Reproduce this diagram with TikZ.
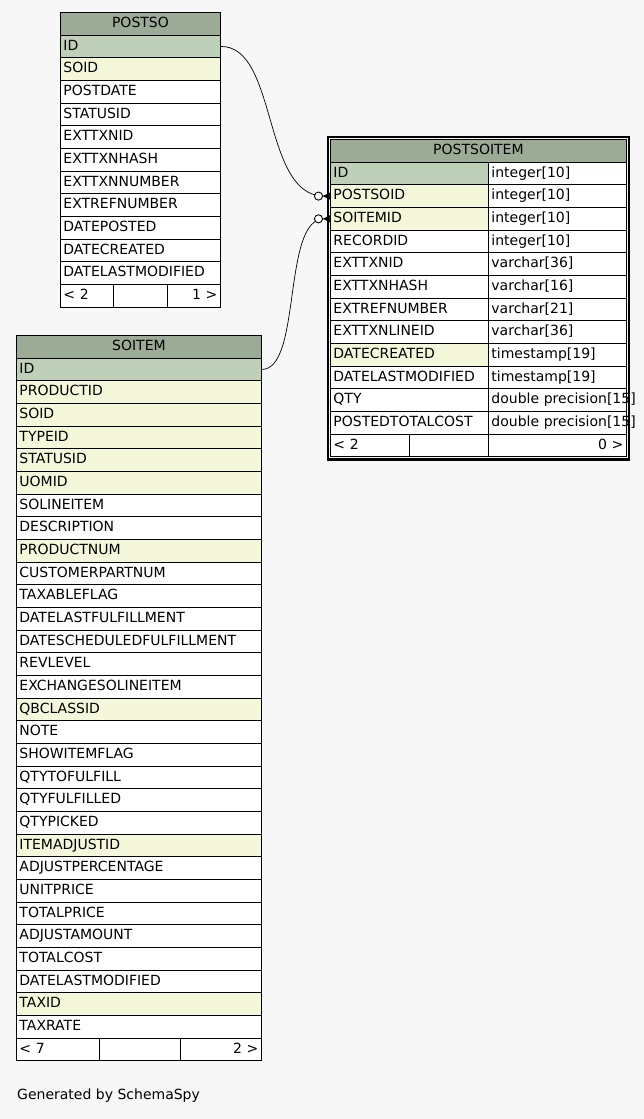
\documentclass[tikz,border=0pt]{standalone}
\usepackage{fontspec}
\setmainfont{DejaVu Sans}
\usepackage{xcolor}
\usetikzlibrary{arrows.meta,positioning,calc}
\definecolor{pagebg}{HTML}{F7F7F7}
\definecolor{headbg}{HTML}{9BAB96}
\definecolor{pkbg}{HTML}{BED1B8}
\definecolor{idxbg}{HTML}{F4F7DA}

\begin{document}
\begin{tikzpicture}[x=1pt, y=-1pt, font=\fontsize{14}{16}\selectfont,
  cell/.style={draw=black, line width=0.9pt, anchor=north west, minimum height=22.67pt,
    inner xsep=3pt, inner ysep=0pt, text height=10.5pt, text depth=3pt, align=left},
  headcell/.style={cell, fill=headbg, align=center},
  fk/.style={line width=0.7pt, -{Circle[open, fill=white, line width=0.9pt, length=9pt, width=9pt] Triangle[reversed, length=7pt, width=7pt]}}]
\useasboundingbox (0,0) rectangle (644,1119);
\fill[pagebg] (0,0) rectangle (644,1119);

% POSTSO
\node[headcell, text width=154pt] (postso) at (60,12) {POSTSO};
\foreach \txt/\bg [count=\i] in {ID/pkbg, SOID/idxbg, POSTDATE/white, STATUSID/white,
    EXTTXNID/white, EXTTXNHASH/white, EXTTXNNUMBER/white, EXTREFNUMBER/white,
    DATEPOSTED/white, DATECREATED/white, DATELASTMODIFIED/white}
  \node[cell, fill=\bg, text width=154pt] (postso-\i) at (60,{12+\i*22.67}) {\txt};
\node[cell, fill=white, text width=47pt] (postso-in) at (60,{12+12*22.67}) {< 2};
\node[cell, fill=white, text width=48pt] (postso-mid) at (113,{12+12*22.67}) {};
\node[cell, fill=white, text width=47pt, align=right] (postso-out) at (167,{12+12*22.67}) {1 >};

% SOITEM
\node[headcell, text width=239pt] (soitem) at (16,335) {SOITEM};
\foreach \txt/\bg [count=\i] in {ID/pkbg, PRODUCTID/idxbg, SOID/idxbg, TYPEID/idxbg,
    STATUSID/idxbg, UOMID/idxbg, SOLINEITEM/white, DESCRIPTION/white, PRODUCTNUM/idxbg,
    CUSTOMERPARTNUM/white, TAXABLEFLAG/white, DATELASTFULFILLMENT/white,
    DATESCHEDULEDFULFILLMENT/white, REVLEVEL/white, EXCHANGESOLINEITEM/white,
    QBCLASSID/idxbg, NOTE/white, SHOWITEMFLAG/white, QTYTOFULFILL/white,
    QTYFULFILLED/white, QTYPICKED/white, ITEMADJUSTID/idxbg, ADJUSTPERCENTAGE/white,
    UNITPRICE/white, TOTALPRICE/white, ADJUSTAMOUNT/white, TOTALCOST/white,
    DATELASTMODIFIED/white, TAXID/idxbg, TAXRATE/white}
  \node[cell, fill=\bg, text width=239pt] (soitem-\i) at (16,{335+\i*22.67}) {\txt};
\node[cell, fill=white, text width=77pt] (soitem-in) at (16,{335+31*22.67}) {< 7};
\node[cell, fill=white, text width=75pt] (soitem-mid) at (99,{335+31*22.67}) {};
\node[cell, fill=white, text width=75pt, align=right] (soitem-out) at (180,{335+31*22.67}) {2 >};

% POSTSOITEM, the selected table
\node[headcell, text width=290pt] (psi) at (330,139) {POSTSOITEM};
\foreach \txt/\bg/\typ [count=\i] in {ID/pkbg/integer[10], POSTSOID/idxbg/integer[10],
    SOITEMID/idxbg/integer[10], RECORDID/white/integer[10], EXTTXNID/white/varchar[36],
    EXTTXNHASH/white/varchar[16], EXTREFNUMBER/white/varchar[21],
    EXTTXNLINEID/white/varchar[36], DATECREATED/idxbg/timestamp[19],
    DATELASTMODIFIED/white/timestamp[19], QTY/white/\mbox{double precision[15]},
    POSTEDTOTALCOST/white/\mbox{double precision[15]}} {
  \node[cell, fill=\bg, text width=152pt] (psi-\i) at (330,{139+\i*22.67}) {\txt};
  \node[cell, fill=white, text width=132pt] (psi-\i-t) at (488,{139+\i*22.67}) {\typ};
}
\node[cell, fill=white, text width=73pt] (psi-in) at (330,{139+13*22.67}) {< 2};
\node[cell, fill=white, text width=73pt] (psi-mid) at (409,{139+13*22.67}) {};
\node[cell, fill=white, text width=132pt, align=right] (psi-out) at (488,{139+13*22.67}) {0 >};
\draw[line width=2.4pt] ($(psi.north west)+(-2.2,-2.2)$) rectangle ($(psi-out.south east)+(2.2,2.2)$);

% foreign keys
\draw[fk] (postso-1.east) .. controls (278,46) and (262,196) .. (psi-2.west);
\draw[fk] (soitem-1.east) .. controls (302,369) and (282,219) .. (psi-3.west);

\node[anchor=west, inner sep=0pt] (credit) at (17,1096) {Generated by SchemaSpy};
\end{tikzpicture}
\end{document}
